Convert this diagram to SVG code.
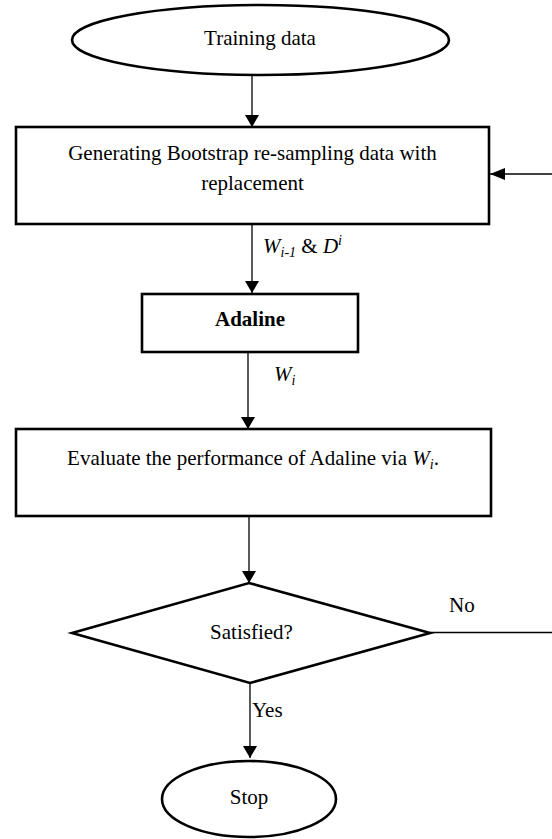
<svg xmlns="http://www.w3.org/2000/svg" width="552" height="839" viewBox="0 0 552 839">
  <defs>
    <marker id="arrow" viewBox="0 0 12 14" refX="12" refY="7" markerWidth="12" markerHeight="14" markerUnits="userSpaceOnUse" orient="auto">
      <path d="M0,0 L12,7 L0,14 z" fill="#000"/>
    </marker>
    <marker id="arrowLong" viewBox="0 0 15 12" refX="15" refY="6" markerWidth="15" markerHeight="12" markerUnits="userSpaceOnUse" orient="auto">
      <path d="M0,0 L15,6 L0,12 z" fill="#000"/>
    </marker>
  </defs>
  <style>
    .shape { fill: #fff; stroke: #000; stroke-width: 2.6; }
    .edge { fill: none; stroke: #000; stroke-width: 1.3; }
    .lbl { font-family: "Liberation Serif", "Times New Roman", serif; font-size: 21px; fill: #000; }
    .mid { text-anchor: middle; }
    .it { font-style: italic; }
  </style>
  <rect width="552" height="839" fill="#fff"/>

  <!-- connectors -->
  <g id="connectors">
    <line class="edge" x1="252" y1="75" x2="252" y2="127" marker-end="url(#arrow)"/>
    <line class="edge" x1="252" y1="224" x2="252" y2="293" marker-end="url(#arrow)"/>
    <line class="edge" x1="248" y1="352" x2="248" y2="429" marker-end="url(#arrow)"/>
    <line class="edge" x1="249" y1="516" x2="249" y2="583" marker-end="url(#arrow)"/>
    <line class="edge" x1="250" y1="683" x2="250" y2="758" marker-end="url(#arrow)"/>
    <line class="edge" x1="430" y1="632.5" x2="552" y2="632.5"/>
    <line class="edge" x1="552" y1="174" x2="490" y2="174" marker-end="url(#arrowLong)"/>
    <text class="lbl it" x="263" y="253">W<tspan font-size="14" dy="4">i-1</tspan><tspan font-style="normal" dy="-4"> &amp; </tspan>D<tspan font-size="14" dy="-8">i</tspan></text>
    <text class="lbl it" x="274" y="381">W<tspan font-size="14" dy="4">i</tspan></text>
    <text class="lbl" x="449" y="612">No</text>
    <text class="lbl" x="252" y="717">Yes</text>
  </g>

  <!-- start terminal -->
  <g id="training-data">
    <ellipse class="shape" cx="260.5" cy="40" rx="188.5" ry="35"/>
    <text class="lbl mid" x="260" y="45">Training data</text>
  </g>

  <!-- bootstrap resampling step -->
  <g id="bootstrap">
    <rect class="shape" x="16" y="127" width="473" height="97"/>
    <text class="lbl mid" x="252.5" y="160">Generating Bootstrap re-sampling data with</text>
    <text class="lbl mid" x="252.5" y="190">replacement</text>
  </g>

  <!-- Adaline training -->
  <g id="adaline">
    <rect class="shape" x="142" y="294" width="216" height="58"/>
    <text class="lbl mid" x="250" y="326" font-weight="bold">Adaline</text>
  </g>

  <!-- evaluation step -->
  <g id="evaluate">
    <rect class="shape" x="16" y="429" width="475" height="87"/>
    <text class="lbl mid" x="253" y="465">Evaluate the performance of Adaline via <tspan class="it">W</tspan><tspan class="it" font-size="14" dy="4">i</tspan><tspan dy="-4">.</tspan></text>
  </g>

  <!-- decision -->
  <g id="satisfied">
    <polygon class="shape" points="249,583 430,633 250,683 72,633"/>
    <text class="lbl mid" x="251.5" y="639">Satisfied?</text>
  </g>

  <!-- end terminal -->
  <g id="stop">
    <ellipse class="shape" cx="249" cy="799" rx="87" ry="38"/>
    <text class="lbl mid" x="249" y="804">Stop</text>
  </g>
</svg>
